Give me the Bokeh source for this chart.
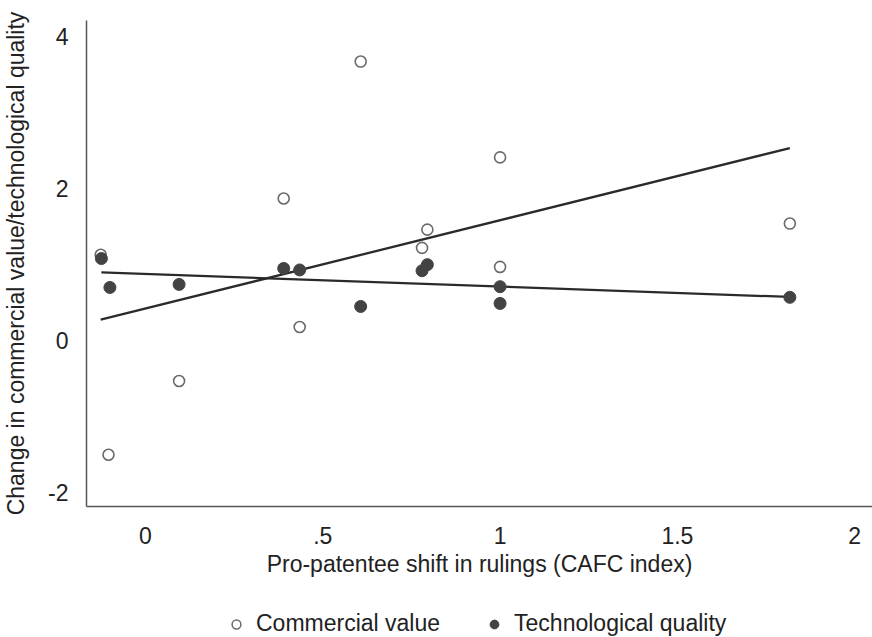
import numpy as np
from bokeh.plotting import figure
from bokeh.layouts import column
from bokeh.models import FixedTicker, Legend, LegendItem, Range1d
from bokeh.embed import file_html
from bokeh.resources import INLINE

# Data
cafc_shift = [-0.126, -0.104, 0.095, 0.39, 0.435, 0.607, 0.78, 0.795, 1.0, 1.0, 1.817]
commercial_value = [1.13, -1.5, -0.53, 1.87, 0.18, 3.67, 1.22, 1.46, 2.41, 0.97, 1.54]
tech_shift = [-0.124, -0.10, 0.095, 0.39, 0.435, 0.607, 0.78, 0.795, 1.0, 1.0, 1.817]
tech_quality = [1.08, 0.70, 0.74, 0.95, 0.93, 0.45, 0.92, 1.0, 0.71, 0.49, 0.57]

x_ticks = [0, 0.5, 1, 1.5, 2]
x_tick_labels = {0: "0", 0.5: ".5", 1: "1", 1.5: "1.5", 2: "2"}
y_ticks = [-2, 0, 2, 4]
y_tick_labels = {-2: "-2", 0: "0", 2: "2", 4: "4"}
series_names = ["Commercial value", "Technological quality"]

FONT = "Liberation Sans"
TXT = "#222222"
OPEN_LINE = "#6a6a6a"
FILLED = "#434343"

MAIN_H = 587
p = figure(width=872, height=MAIN_H, output_backend="svg", toolbar_location=None,
           x_range=Range1d(-0.166, 2.05), y_range=Range1d(-2.18, 4.21),
           min_border_left=83, min_border_right=0, min_border_top=20,
           min_border_bottom=MAIN_H - 506)
p.outline_line_color = None
p.grid.grid_line_color = None

# regression lines (OLS on the data)
def fit_line(xs, ys):
    b, a = np.polyfit(xs, ys, 1)
    xx = np.array([min(xs), max(xs)])
    return xx, a + b * xx

cx, cy = fit_line(cafc_shift, commercial_value)
tx, ty = fit_line(tech_shift, tech_quality)
p.line(cx, cy, line_color="#2a2a2a", line_width=2.3)
p.line(tx, ty, line_color="#2a2a2a", line_width=2.3)

p.scatter(cafc_shift, commercial_value, marker="circle", size=11,
          fill_color="white", line_color=OPEN_LINE, line_width=1.6)
p.scatter(tech_shift, tech_quality, marker="circle", size=12,
          fill_color=FILLED, line_color=FILLED, line_width=1)

for ax in (p.xaxis[0], p.yaxis[0]):
    ax.major_tick_line_color = None
    ax.minor_tick_line_color = None
    ax.axis_line_color = "#555555"
    ax.axis_line_width = 1.5
    ax.major_label_text_font = FONT
    ax.major_label_text_font_size = "23px"
    ax.major_label_text_color = TXT
    ax.axis_label_text_font = FONT
    ax.axis_label_text_font_size = "23px"
    ax.axis_label_text_font_style = "normal"
    ax.axis_label_text_color = TXT

p.xaxis.ticker = FixedTicker(ticks=x_ticks)
p.xaxis.major_label_overrides = x_tick_labels
p.yaxis.ticker = FixedTicker(ticks=y_ticks)
p.yaxis.major_label_overrides = y_tick_labels
p.xaxis.axis_label = "Pro-patentee shift in rulings (CAFC index)"
p.yaxis.axis_label = "Change in commercial value/technological quality"
p.xaxis.major_label_standoff = 14
p.xaxis.axis_label_standoff = 4
p.yaxis.major_label_standoff = 12
p.yaxis.axis_label_standoff = 16

# legend strip underneath (proxy glyphs lie outside the visible range)
lg = figure(width=872, height=637 - MAIN_H, output_backend="svg", toolbar_location=None,
            x_axis_type=None, y_axis_type=None, min_border=0,
            x_range=Range1d(0, 1), y_range=Range1d(0, 1))
lg.outline_line_color = None
lg.grid.grid_line_color = None
r_comm = lg.scatter([-5], [-5], marker="circle", size=8,
                    fill_color="white", line_color=OPEN_LINE, line_width=1.5)
r_tech = lg.scatter([-5], [-5], marker="circle", size=9,
                    fill_color=FILLED, line_color=FILLED, line_width=1)
legend = Legend(items=[LegendItem(label=series_names[0], renderers=[r_comm]),
                       LegendItem(label=series_names[1], renderers=[r_tech])],
                orientation="horizontal", location=(139, 0),
                label_text_font=FONT, label_text_font_size="23px",
                label_text_color=TXT, border_line_color=None,
                background_fill_alpha=0, spacing=43, glyph_width=22,
                glyph_height=22, label_standoff=9, margin=0, padding=2)
lg.add_layout(legend, "center")

open("out.html", "w").write(file_html(column(p, lg, spacing=0), INLINE))
